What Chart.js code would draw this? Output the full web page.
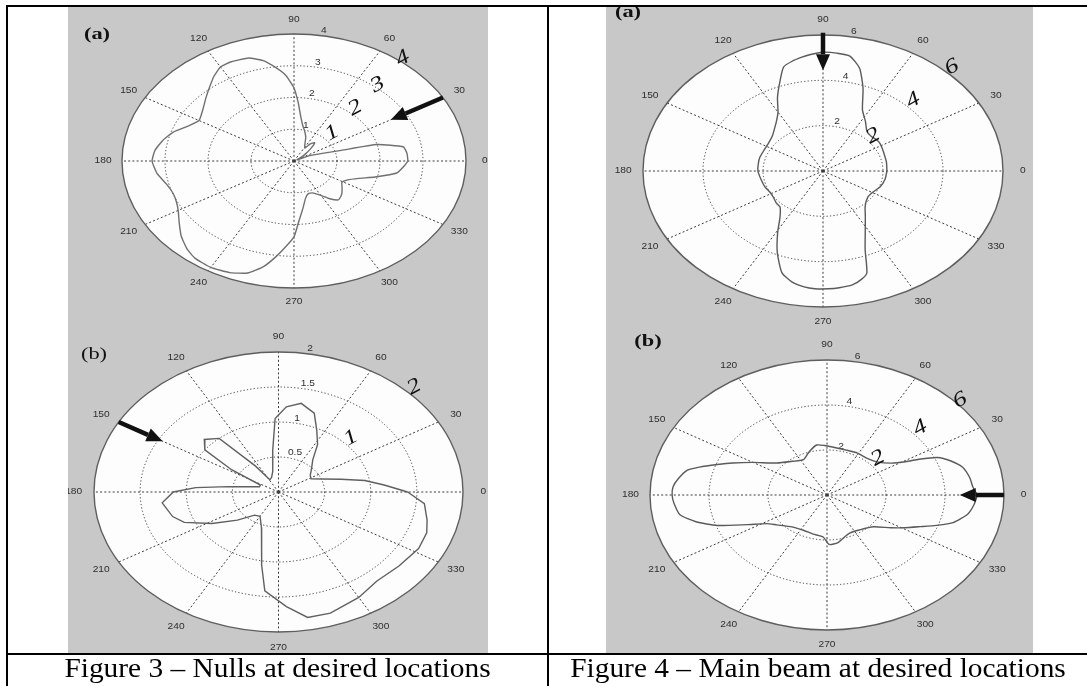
<!DOCTYPE html>
<html>
<head>
<meta charset="utf-8">
<script src="https://cdn.jsdelivr.net/npm/chart.js@4.4.1/dist/chart.umd.min.js"></script>
<style>
  body { margin: 0; background: #fff; width: 1087px; height: 686px; overflow: hidden; position: relative; }
  .rule { position: absolute; background: #000; }
  .panel { position: absolute; background: #c8c8c8; }
  canvas { position: absolute; }
  .caption { position: absolute; top: 652px; height: 32px; line-height: 32px; font-family: "Liberation Serif", "Times New Roman", serif; font-size: 28px; text-align: center; color: #000; white-space: nowrap; transform: scaleX(1.05); }
</style>
</head>
<body>
<div class="panel" style="left:68px;top:7px;width:420px;height:646px"></div>
<div class="panel" style="left:606px;top:7px;width:427px;height:646px"></div>
<canvas id="fig3a" width="420" height="323" style="left:68px;top:7px"></canvas>
<canvas id="fig3b" width="420" height="323" style="left:68px;top:330px"></canvas>
<canvas id="fig4a" width="427" height="323" style="left:606px;top:7px"></canvas>
<canvas id="fig4b" width="427" height="323" style="left:606px;top:330px"></canvas>
<div class="rule" style="left:6px;top:5px;width:1090px;height:2px"></div>
<div class="rule" style="left:6px;top:5px;width:2px;height:700px"></div>
<div class="rule" style="left:547px;top:5px;width:2px;height:700px"></div>
<div class="rule" style="left:1087px;top:5px;width:2px;height:700px"></div>
<div class="rule" style="left:6px;top:653px;width:1090px;height:2px"></div>
<div class="caption" style="left:8px;width:539px">Figure 3 – Nulls at desired locations</div>
<div class="caption" style="left:549px;width:538px">Figure 4 – Main beam at desired locations</div>
<script>
// ---- datos (angulo en grados, ganancia) ----
const angleTicks = [0, 30, 60, 90, 120, 150, 180, 210, 240, 270, 300, 330];
const angleLabels = ["0", "30", "60", "90", "120", "150", "180", "210", "240", "270", "300", "330"];

const fig3aAngles = [0,5,10,15,17,20,25,30,35,40,45,50,55,58,63,70,76,80,84,87,90,94,98,103,108,115,120,125,130,136,143,150,156,162,168,174,180,187,194,200,205,210,216,222,228,233,240,247,253,258,262,266,270,273,278,283,288,293,300,305,310,315,319,324,329,334,340,345,351,357,360];
const fig3aGain = [2.65,2.64,2.58,2.0,1.15,0.7,0.4,0.08,0.2,0.35,0.55,0.75,0.65,0.48,0.55,0.8,1.0,1.15,1.45,1.85,2.3,2.7,2.96,3.25,3.41,3.45,3.42,3.25,3.05,2.85,2.66,2.55,2.7,2.95,3.12,3.25,3.3,3.21,3.05,2.99,3.02,3.11,3.3,3.53,3.72,3.83,3.87,3.82,3.69,3.4,3.05,2.7,2.39,1.95,1.5,1.2,1.08,1.09,1.25,1.45,1.6,1.55,1.48,1.38,1.3,1.37,1.6,1.95,2.42,2.58,2.65];
const fig3aRings = [1, 2, 3, 4];
const fig3aRingLabels = ["1", "2", "3", "4"];

const fig3bAngles = [0,5,10,15,21,28,35,42,51,58,65,71,79,86,92,96,102,110,118,124,130,137,143,148,153,160,167,172,176,180,187,197,203,212,222,232,240,250,256,260,264,273,280,288,300,310,321,332,340,346,354,360];
const fig3bGain = [1.4,1.15,0.95,0.7,0.52,0.4,0.42,0.48,0.59,0.8,0.98,1.19,1.29,1.22,1.05,0.6,0.3,0.22,0.2,0.45,1.0,1.1,1.0,0.6,0.22,0.22,0.33,0.55,0.9,1.14,1.27,1.2,1.11,0.85,0.6,0.42,0.4,0.54,0.75,1.06,1.42,1.64,1.82,1.82,1.74,1.66,1.68,1.72,1.71,1.66,1.59,1.4];
const fig3bRings = [0.5, 1, 1.5, 2];
const fig3bRingLabels = ["0.5", "1", "1.5", "2"];

const fig4aAngles = [0,10,17,25,32,37,43,50,57,64,70,75,80,85,90,95,98,102,106,110,115,120,125,130,137,145,155,164,172,180,190,200,208,215,222,228,235,241,247,253,258,263,267,272,276,281,285,288,292,298,305,312,322,330,340,350,360];
const fig4aGain = [2.13,2.15,2.16,2.2,2.25,2.26,2.22,2.28,2.6,3.0,3.9,4.7,5.15,5.22,5.24,5.15,5.07,4.95,4.77,4.2,3.59,3.0,2.7,2.5,2.3,2.2,2.17,2.19,2.18,2.17,2.1,2.06,2.0,2.02,2.1,2.14,2.5,3.12,3.9,4.69,5.0,5.15,5.2,5.2,5.18,5.12,4.95,4.73,3.75,3.0,2.46,2.1,1.89,1.9,2.03,2.1,2.13];

const fig4bAngles = [0,4,9,15,20,24,27,29,33,41,50,61,72,85,92,99,108,117,128,140,150,156,160,164,167,172,176,180,184,190,195,200,206,212,218,230,243,255,266,272,280,288,295,305,318,326,331,336,340,344,350,355,360];
const fig4bGain = [5.1,4.96,4.9,4.76,4.45,4.1,3.5,3.05,2.6,2.24,2.12,2.13,2.1,2.14,2.2,2.25,2.0,1.76,1.9,2.21,2.9,3.5,3.96,4.5,4.87,5.1,5.23,5.25,5.2,5.06,4.6,3.96,3.0,2.4,2.16,1.85,1.76,1.8,1.87,2.2,2.15,1.95,1.86,1.9,2.11,2.6,3.0,3.46,3.95,4.45,4.85,5.0,5.1];
const fig4Rings = [2, 4, 6];
const fig4RingLabels = ["2", "4", "6"];

// ---- utilidades ----
const toRad = d => d * Math.PI / 180;

function polarPoints(angles, gains) {
	return angles.map((a, i) => ({ x: gains[i] * Math.cos(toRad(a)), y: gains[i] * Math.sin(toRad(a)) }));
}

function stretchText(ctx, text, x, y, sx, rot) {
	ctx.save();
	ctx.translate(x, y);
	if (rot) ctx.rotate(rot);
	ctx.scale(sx, 1);
	ctx.fillText(text, 0, 0);
	ctx.restore();
}

// rejilla polar estilo MATLAB dibujada con las escalas x/y del grafico
const polarGrid = {
	id: "polarGrid",
	beforeDatasetsDraw(chart, args, o) {
		const ctx = chart.ctx;
		const sx = chart.scales.x, sy = chart.scales.y;
		const cx = sx.getPixelForValue(0), cy = sy.getPixelForValue(0);
		const rx = v => sx.getPixelForValue(v) - cx;
		const ry = v => cy - sy.getPixelForValue(v);
		const pt = (r, deg) => [sx.getPixelForValue(r * Math.cos(toRad(deg))), sy.getPixelForValue(r * Math.sin(toRad(deg)))];
		ctx.save();
		// fondo blanco
		ctx.beginPath();
		ctx.ellipse(cx, cy, rx(o.rmax), ry(o.rmax), 0, 0, 2 * Math.PI);
		ctx.fillStyle = "#fdfdfd";
		ctx.fill();
		// anillos punteados
		ctx.strokeStyle = "#3c3c3c";
		ctx.lineWidth = 1;
		ctx.setLineDash([1.2, 2.2]);
		o.rings.forEach(r => {
			if (r >= o.rmax) return;
			ctx.beginPath();
			ctx.ellipse(cx, cy, rx(r), ry(r), 0, 0, 2 * Math.PI);
			ctx.stroke();
		});
		// radios cada 30 grados
		ctx.setLineDash([2, 2.2]);
		angleTicks.forEach(a => {
			const [x, y] = pt(o.rmax, a);
			ctx.beginPath();
			ctx.moveTo(cx, cy);
			ctx.lineTo(x, y);
			ctx.stroke();
		});
		// borde exterior
		ctx.setLineDash([]);
		ctx.strokeStyle = "#5e5e5e";
		ctx.lineWidth = 1.4;
		ctx.beginPath();
		ctx.ellipse(cx, cy, rx(o.rmax), ry(o.rmax), 0, 0, 2 * Math.PI);
		ctx.stroke();
		// etiquetas de angulo
		ctx.fillStyle = "#2e2e2e";
		ctx.font = "8.5px 'Liberation Sans', Arial, sans-serif";
		ctx.textAlign = "center";
		ctx.textBaseline = "middle";
		angleTicks.forEach((a, i) => {
			const [x, y] = pt(o.rmax * 1.11, a);
			stretchText(ctx, angleLabels[i], x, y, 1.2);
		});
		// etiquetas de los anillos
		ctx.textAlign = "left";
		ctx.textBaseline = "bottom";
		o.rings.forEach((r, i) => {
			const [x, y] = pt(r, 82);
			stretchText(ctx, o.ringLabels[i], x + 3, y, 1.2);
		});
		// (a) / (b)
		ctx.fillStyle = "#111";
		ctx.font = o.tag.weight + " 16px 'Liberation Serif', serif";
		ctx.textAlign = "center";
		ctx.textBaseline = "middle";
		stretchText(ctx, o.tag.text, o.tag.x, o.tag.y, 1.4);
		ctx.restore();
	},
	afterDatasetsDraw(chart, args, o) {
		const ctx = chart.ctx;
		const sx = chart.scales.x, sy = chart.scales.y;
		const pt = (r, deg) => [sx.getPixelForValue(r * Math.cos(toRad(deg))), sy.getPixelForValue(r * Math.sin(toRad(deg)))];
		ctx.save();
		// numeros escritos a mano
		ctx.fillStyle = "#111";
		ctx.font = "italic 21px 'Liberation Serif', serif";
		ctx.textAlign = "center";
		ctx.textBaseline = "middle";
		o.notes.forEach(n => {
			const [x, y] = pt(n.r, n.a);
			stretchText(ctx, n.t, x, y, 1.25, -0.5);
		});
		// flecha
		const [x1, y1] = pt(o.arrow.from, o.arrow.a);
		const [x2, y2] = pt(o.arrow.to, o.arrow.a);
		const ang = Math.atan2(y2 - y1, x2 - x1);
		const hl = 16, hw = 7;
		const bx = x2 - hl * Math.cos(ang), by = y2 - hl * Math.sin(ang);
		ctx.strokeStyle = "#111";
		ctx.lineWidth = 4.5;
		ctx.beginPath();
		ctx.moveTo(x1, y1);
		ctx.lineTo(bx, by);
		ctx.stroke();
		ctx.fillStyle = "#111";
		ctx.beginPath();
		ctx.moveTo(x2, y2);
		ctx.lineTo(bx + hw * Math.sin(ang), by - hw * Math.cos(ang));
		ctx.lineTo(bx - hw * Math.sin(ang), by + hw * Math.cos(ang));
		ctx.closePath();
		ctx.fill();
		ctx.restore();
	}
};

function makePolar(id, angles, gains, cfg) {
	return new Chart(document.getElementById(id), {
		type: "scatter",
		data: {
			datasets: [{
				data: polarPoints(angles, gains),
				showLine: true,
				borderColor: cfg.lineColor,
				borderWidth: 1.4,
				pointRadius: 0,
				tension: cfg.tension,
			}],
		},
		options: {
			responsive: false,
			animation: false,
			layout: { padding: cfg.padding },
			scales: {
				x: { type: "linear", min: -cfg.rmax, max: cfg.rmax, display: false },
				y: { type: "linear", min: -cfg.rmax, max: cfg.rmax, display: false },
			},
			plugins: {
				legend: { display: false },
				tooltip: { enabled: false },
				polarGrid: cfg,
			},
		},
		plugins: [polarGrid],
	});
}

makePolar("fig3a", fig3aAngles, fig3aGain, {
	rmax: 4, rings: fig3aRings, ringLabels: fig3aRingLabels,
	padding: { left: 54, right: 22, top: 27, bottom: 42 },
	lineColor: "#707070", tension: 0.15,
	tag: { text: "(a)", x: 29, y: 28, weight: "bold" },
	notes: [{ t: "1", r: 1.25, a: 45 }, { t: "2", r: 2.19, a: 49.6 }, { t: "3", r: 3.09, a: 51 }, { t: "4", r: 4.1, a: 52 }],
	arrow: { a: 30, from: 4.0, to: 2.6 },
});

makePolar("fig3b", fig3bAngles, fig3bGain, {
	rmax: 2, rings: fig3bRings, ringLabels: fig3bRingLabels,
	padding: { left: 26, right: 25, top: 22, bottom: 21 },
	lineColor: "#606060", tension: 0,
	tag: { text: "(b)", x: 26, y: 25, weight: "normal" },
	notes: [{ t: "1", r: 1.1, a: 44.6 }, { t: "2", r: 2.1, a: 45.6 }],
	arrow: { a: 150, from: 2.0, to: 1.45 },
});

makePolar("fig4a", fig4aAngles, fig4aGain, {
	rmax: 6, rings: fig4Rings, ringLabels: fig4RingLabels,
	padding: { left: 37, right: 30, top: 28, bottom: 23 },
	lineColor: "#5a5a5a", tension: 0.2,
	tag: { text: "(a)", x: 22, y: 6, weight: "bold" },
	notes: [{ t: "2", r: 2.27, a: 42.7 }, { t: "4", r: 4.33, a: 46 }, { t: "6", r: 6.28, a: 46.8 }],
	arrow: { a: 90, from: 6.1, to: 4.45 },
});

makePolar("fig4b", fig4bAngles, fig4bGain, {
	rmax: 6, rings: fig4Rings, ringLabels: fig4RingLabels,
	padding: { left: 44, right: 29, top: 30, bottom: 23 },
	lineColor: "#5a5a5a", tension: 0.2,
	tag: { text: "(b)", x: 42, y: 12, weight: "bold" },
	notes: [{ t: "2", r: 2.38, a: 43.5 }, { t: "4", r: 4.34, a: 43.4 }, { t: "6", r: 6.17, a: 43 }],
	arrow: { a: 0, from: 6.0, to: 4.5 },
});
</script>
</body>
</html>
